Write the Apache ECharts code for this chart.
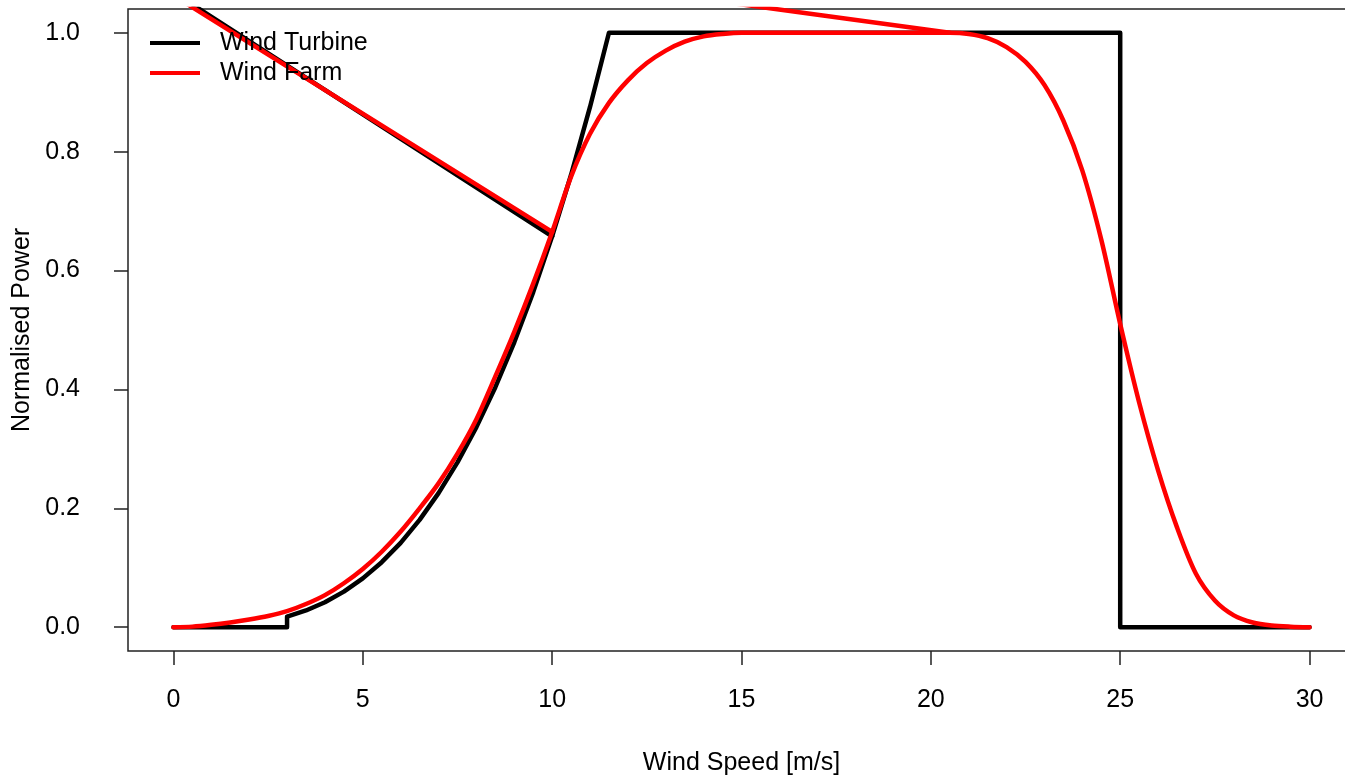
<!DOCTYPE html>
<html>
<head>
<meta charset="utf-8">
<script src="https://cdn.jsdelivr.net/npm/echarts@6/dist/echarts.min.js"></script>
<style>
  html, body { margin: 0; padding: 0; background: #fff; }
  #main { width: 1345px; height: 776px; }
</style>
</head>
<body>
<div id="main"></div>
<script>
var xTicks = [0, 5, 10, 15, 20, 25, 30];
var yTicks = [0, 0.2, 0.4, 0.6, 0.8, 1.0];

// single turbine power curve
var turbineSpeed = [0, 3, 3, 3.5, 4, 4.5, 5, 5.5, 6, 6.5, 7, 7.5, 8, 8.5, 9, 9.5, 10, 10.5, 11, 11.5, 25, 25, 30];
var turbinePower = [0, 0, 0.0178, 0.0282, 0.0421, 0.0599, 0.0822, 0.1094, 0.1420, 0.1806, 0.2255, 0.2774, 0.3366, 0.4038, 0.4793, 0.5637, 0.6575, 0.7612, 0.8752, 1.0, 1.0, 0, 0];

// aggregated wind farm curve
var farmSpeed = [0, 0.5, 1, 1.5, 2, 2.5, 3, 3.5, 4, 4.5, 5, 5.5, 6, 6.5, 7, 7.5, 8, 8.5, 9, 9.5,
                 10, 10.5, 11, 11.5, 12, 12.5, 13, 13.5, 14, 14.5, 15, 16, 17, 18, 19, 20, 20.5,
                 21, 21.5, 22, 22.5, 23, 23.5, 24, 24.5, 25, 25.5, 26, 26.5, 27, 27.5, 28, 28.5, 29, 29.5, 30];
var farmPower = [0, 0.001, 0.004, 0.008, 0.013, 0.019, 0.027, 0.039, 0.054, 0.074, 0.098, 0.127, 0.161, 0.200, 0.242, 0.292, 0.350, 0.422, 0.497, 0.578,
                 0.665, 0.758, 0.830, 0.882, 0.920, 0.949, 0.970, 0.985, 0.994, 0.998, 1.0, 1.0, 1.0, 1.0, 1.0, 1.0, 1.0,
                 0.998, 0.991, 0.976, 0.951, 0.912, 0.852, 0.768, 0.652, 0.510, 0.378, 0.264, 0.168, 0.090, 0.045, 0.020, 0.008, 0.003, 0.001, 0];

// stray segments running off the top of the plot
var turbineStraySpeed = [10, -3.7];
var turbineStrayPower = [0.6575, 1.22];
var farmStraySpeed = [10, -3.7, 20.5];
var farmStrayPower = [0.665, 1.21, 1.0];

function pairs(xs, ys) {
    var out = [];
    for (var i = 0; i < xs.length; i++) out.push([xs[i], ys[i]]);
    return out;
}

var font = 'Liberation Sans, Arial, sans-serif';
var myChart = echarts.init(document.getElementById('main'), null, {renderer: 'canvas'});

function lineSeries(name, data, color, smooth) {
    return {
        name: name,
        type: 'line',
        data: data,
        showSymbol: false,
        smooth: smooth,
        clip: true,
        lineStyle: { color: color, width: 4.5, cap: 'round', join: 'round' },
        itemStyle: { color: color },
        emphasis: { disabled: true }
    };
}

var option = {
    animation: false,
    grid: {
        left: 128, top: 9, width: 1227, height: 642,
        outerBoundsMode: 'none',
        containLabel: false,
        show: true, borderColor: '#222', borderWidth: 1.5, backgroundColor: 'transparent'
    },
    legend: {
        data: ['Wind Turbine', 'Wind Farm'],
        orient: 'vertical',
        left: 150, top: 28,
        padding: 0,
        icon: 'rect',
        itemWidth: 50, itemHeight: 4,
        itemGap: 0,
        textStyle: { fontFamily: font, fontSize: 25, color: '#000', lineHeight: 30, padding: [0, 0, 0, 15] }
    },
    xAxis: {
        type: 'value',
        min: -1.2, max: 31.2,
        name: 'Wind Speed [m/s]',
        nameLocation: 'middle',
        nameGap: 100,
        nameTextStyle: { fontFamily: font, fontSize: 25, color: '#000' },
        axisLine: { show: false, onZero: false },
        splitLine: { show: false },
        axisTick: { show: true, inside: false, length: 14, customValues: xTicks, lineStyle: { color: '#222', width: 1.5 } },
        axisLabel: { customValues: xTicks, margin: 37, fontFamily: font, fontSize: 25, color: '#000' }
    },
    yAxis: {
        type: 'value',
        min: -0.04, max: 1.04,
        name: 'Normalised Power',
        nameLocation: 'middle',
        nameGap: 89,
        nameTextStyle: { fontFamily: font, fontSize: 25, color: '#000' },
        axisLine: { show: false, onZero: false },
        splitLine: { show: false },
        axisTick: { show: true, inside: false, length: 14, customValues: yTicks, lineStyle: { color: '#222', width: 1.5 } },
        axisLabel: {
            customValues: yTicks, margin: 48, fontFamily: font, fontSize: 25, color: '#000',
            formatter: function (v) { return v.toFixed(1); }
        }
    },
    series: [
        lineSeries('Wind Turbine', pairs(turbineSpeed, turbinePower), '#000000', false),
        lineSeries('turbine stray', pairs(turbineStraySpeed, turbineStrayPower), '#000000', false),
        lineSeries('Wind Farm', pairs(farmSpeed, farmPower), '#ff0000', 0.3),
        lineSeries('farm stray', pairs(farmStraySpeed, farmStrayPower), '#ff0000', false)
    ]
};

myChart.setOption(option);
</script>
</body>
</html>
